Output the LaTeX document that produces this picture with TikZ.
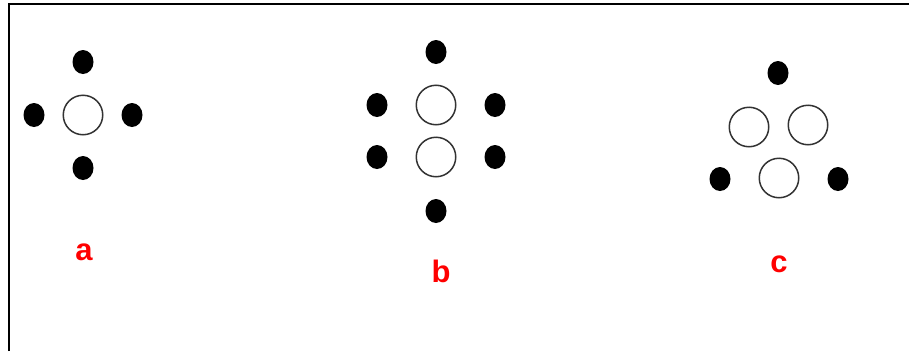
\documentclass[tikz,border=0pt]{standalone}
\usepackage{xcolor}
\usepackage{fontspec}
\setmainfont{Liberation Sans}
\usetikzlibrary{shapes.geometric,positioning}

\begin{document}
\begin{tikzpicture}[x=1pt, y=-1pt,
    dot/.style={ellipse, fill=black, inner sep=0pt, minimum width=21pt, minimum height=24pt},
    ring/.style={circle, draw=black!80, line width=1.5pt, fill=white, inner sep=0pt, minimum size=39.5pt},
    tag/.style={text=red, anchor=base, inner sep=0pt, font=\fontsize{31}{31}\selectfont\bfseries}
]
\useasboundingbox (0,0) rectangle (909,351);

% Frame
\draw[line width=2pt] (9,351) -- (9,4) -- (909,4);

% a
\node[ring] (a0) at (83,115) {};
\node[dot] (atop) at (83,62) {};
\node[dot] (aleft) at (34,115) {};
\node[dot] (aright) at (132,115) {};
\node[dot] (abot) at (83,168) {};
\node[tag] (alabel) at (84,260) {a};

% b
\node[ring] (b1) at (436,105) {};
\node[ring] (b2) at (436,157) {};
\node[dot] (btop) at (436,52) {};
\node[dot] (bleft1) at (377,105) {};
\node[dot] (bleft2) at (377,157) {};
\node[dot] (bright1) at (495,105) {};
\node[dot] (bright2) at (495,157) {};
\node[dot] (bbot) at (436,211) {};
\node[tag] (blabel) at (441,282) {b};

% c
\node[ring] (c1) at (749,127) {};
\node[ring] (c2) at (808,125) {};
\node[ring] (c3) at (779,178) {};
\node[dot] (ctop) at (778,73) {};
\node[dot] (cleft) at (720,179) {};
\node[dot] (cright) at (838,179) {};
\node[tag] (clabel) at (779,272) {c};

\end{tikzpicture}
\end{document}
